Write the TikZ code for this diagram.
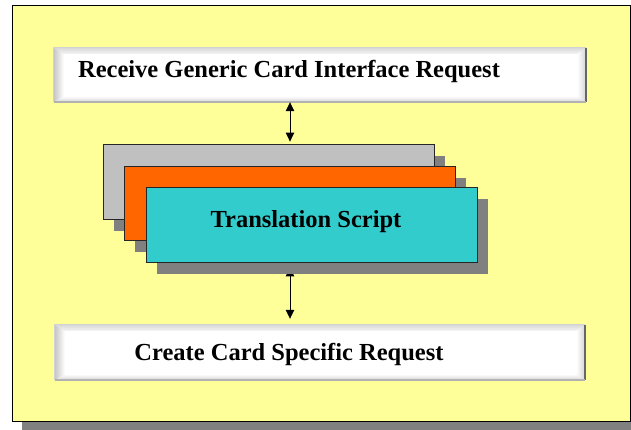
\documentclass[tikz,border=0pt]{standalone}
\usepackage{fontspec}
\setmainfont{Liberation Serif}
\usetikzlibrary{arrows.meta,calc,shadows}
\definecolor{bgyellow}{HTML}{FFFF99}
\definecolor{cardgray}{HTML}{C0C0C0}
\definecolor{cardorange}{HTML}{FF6600}
\definecolor{cardcyan}{HTML}{33CCCC}
\definecolor{shadowgray}{HTML}{808080}
\newcommand\bevelbox[1]{%
  \fill[gray!25] (#1.north west) rectangle (#1.south east);
  \shade[left color=gray!45, right color=white] (#1.north west) -- ($(#1.north west)+(10,6)$) -- ($(#1.south west)+(10,-6)$) -- (#1.south west) -- cycle;
  \shade[top color=gray!30, bottom color=gray!8] (#1.north west) -- (#1.north east) -- ($(#1.north east)+(-9,6)$) -- ($(#1.north west)+(10,6)$) -- cycle;
  \shade[left color=white, right color=gray!35] (#1.north east) -- (#1.south east) -- ($(#1.south east)+(-9,-6)$) -- ($(#1.north east)+(-9,6)$) -- cycle;
  \shade[top color=white, bottom color=gray!35] (#1.south west) -- (#1.south east) -- ($(#1.south east)+(-9,-6)$) -- ($(#1.south west)+(10,-6)$) -- cycle;
  \fill[white] ($(#1.north west)+(10,6)$) rectangle ($(#1.south east)+(-9,-6)$);
  \draw[gray!35, line width=0.8pt] (#1.south west) -- (#1.north west) -- (#1.north east);
  \draw[gray!80!black, line width=1.5pt] (#1.north east) -- (#1.south east);
  \draw[gray!60, line width=1.5pt] (#1.south west) -- (#1.south east);
}
\tikzset{
  frame/.style={draw=black, line width=0.8pt, fill=bgyellow, inner sep=0pt,
    drop shadow={shadow xshift=10pt, shadow yshift=-9pt, opacity=1, fill=shadowgray}},
  plainbox/.style={draw=none, inner sep=0pt},
  card/.style={draw=black!85, line width=0.8pt, inner sep=0pt, minimum width=331pt,
    drop shadow={shadow xshift=11pt, shadow yshift=-12pt, opacity=1, fill=shadowgray}},
  lbl/.style={inner sep=0pt, anchor=base, font=\fontsize{24.5}{28}\selectfont\bfseries},
  dbl/.style={{Triangle[width=8.5pt,length=9pt]}-{Triangle[width=8.5pt,length=9pt]}, line width=1pt, black}
}
\begin{document}
\begin{tikzpicture}[x=1pt,y=-1pt]
\useasboundingbox (0,0) rectangle (631,430);
\node[frame, minimum width=618pt, minimum height=416pt] (bg) at (321,213) {};
\node[plainbox, minimum width=532pt, minimum height=54pt] (recv) at (320,75) {};
\bevelbox{recv}
\node[plainbox, minimum width=530pt, minimum height=55pt] (create) at (320,352.5) {};
\bevelbox{create}
\coordinate (ax) at (290,0);
\node[card, fill=cardgray, minimum height=75pt] (gray) at (268.5,181.5) {};
\node[card, fill=cardorange, minimum height=74pt] (orange) at (289.5,203) {};
\draw[dbl, shorten >=2pt] (recv.south -| ax) -- (gray.north -| ax);
\draw[dbl, shorten <=5pt, shorten >=6pt] (orange.south -| ax) ++(0,22) coordinate (cs) (cs) -- (create.north -| ax);
\node[card, fill=cardcyan, minimum height=75pt] (cyan) at (311.5,224.5) {};
\node[lbl] (t1) at (289,78) {Receive Generic Card Interface Request};
\node[lbl] (t2) at (289,360) {Create Card Specific Request};
\node[lbl] (t3) at (306,228) {Translation Script};
\end{tikzpicture}
\end{document}
